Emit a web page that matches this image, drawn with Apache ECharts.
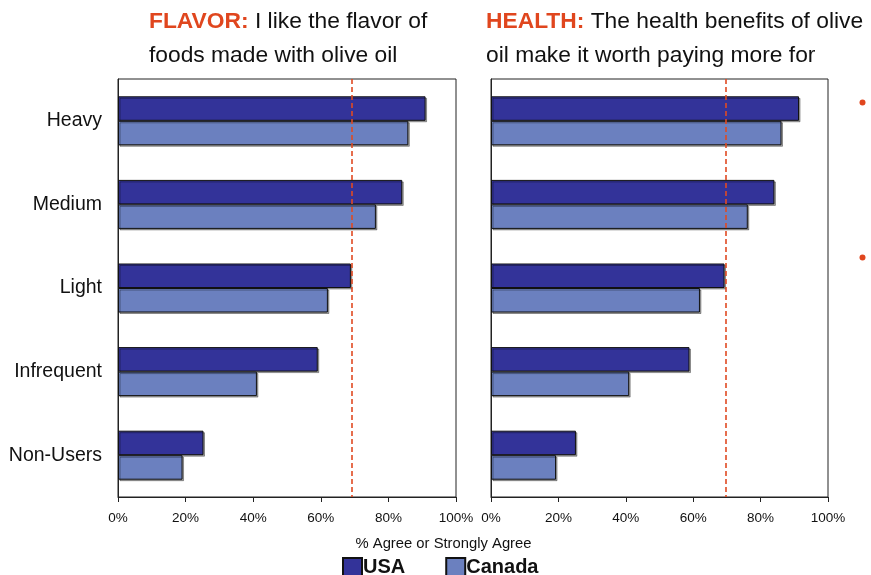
<!DOCTYPE html>
<html>
<head>
<meta charset="utf-8">
<script src="https://cdn.jsdelivr.net/npm/echarts@6/dist/echarts.min.js"></script>
<style>
  html, body { margin: 0; padding: 0; background: #fff; }
  #chart { width: 871px; height: 575px; }
</style>
</head>
<body>
<div id="chart"></div>
<script>
// Usage groups, top to bottom
const segments = ['Heavy', 'Medium', 'Light', 'Infrequent', 'Non-Users'];
// % agree or strongly agree — flavor statement
const flavorUSA = [91.0, 84.1, 68.9, 59.1, 25.3];
const flavorCanada = [85.9, 76.3, 62.1, 41.1, 19.1];
// % agree or strongly agree — health statement
const healthUSA = [91.4, 84.1, 69.3, 58.9, 25.2];
const healthCanada = [86.2, 76.2, 62.0, 41.0, 19.3];
// reference levels (dashed lines)
const flavorRef = 69.2;
const healthRef = 69.6;
const xTicks = [0, 20, 40, 60, 80, 100];

const USA_COLOR = '#333399';
const CAN_COLOR = '#6B80BF';
const REF_COLOR = '#E04A22';
const SANS = '"Liberation Sans", Arial, sans-serif';

const chart = echarts.init(document.getElementById('chart'), null, { renderer: 'canvas' });

function barSeries(name, data, color, idx) {
  return {
    name: name,
    type: 'bar',
    xAxisIndex: idx,
    yAxisIndex: idx,
    data: data,
    barWidth: 24.5,
    barGap: '0%',
    itemStyle: {
      color: color,
      borderColor: '#111',
      borderWidth: 1,
      shadowColor: 'rgba(0,0,0,0.35)',
      shadowOffsetX: 1.5,
      shadowOffsetY: 1.5,
      shadowBlur: 0
    },
    emphasis: { disabled: true },
    animation: false
  };
}

// Dashed vertical reference line drawn by an otherwise empty series
function refSeries(idx, ref) {
  const style = { color: REF_COLOR, type: [5, 3], width: 1.6, opacity: 1 };
  return {
    name: 'ref' + idx,
    type: 'line',
    xAxisIndex: idx,
    yAxisIndex: idx,
    data: [],
    color: REF_COLOR,
    markLine: {
      silent: true,
      symbol: 'none',
      label: { show: false },
      lineStyle: style,
      emphasis: { disabled: true },
      data: [{ xAxis: ref, lineStyle: style }],
      animation: false
    },
    animation: false
  };
}

function xAxis(idx) {
  return {
    type: 'value',
    gridIndex: idx,
    min: 0,
    max: 100,
    interval: 20,
    axisLine: { show: true, lineStyle: { color: '#222', width: 1 } },
    axisTick: { show: true, length: 5, lineStyle: { color: '#222' } },
    splitLine: { show: false },
    axisLabel: {
      formatter: v => xTicks.includes(v) ? v + '%' : '',
      color: '#111',
      fontFamily: SANS,
      fontSize: 13.5,
      margin: 14
    }
  };
}

function yAxis(idx, showLabels) {
  return {
    type: 'category',
    gridIndex: idx,
    data: segments,
    inverse: true,
    axisLine: { show: true, lineStyle: { color: '#222', width: 1 } },
    axisTick: { show: false },
    axisLabel: {
      show: showLabels,
      color: '#111',
      fontFamily: SANS,
      fontSize: 19.5,
      margin: 16
    }
  };
}

const gridBox = { show: true, borderColor: '#222', borderWidth: 1, backgroundColor: '#fff' };

const titleStyle = {
  fontFamily: SANS, fontSize: 22.8, fontWeight: 'normal', color: '#111', lineHeight: 33.5,
  rich: { h: { fontFamily: SANS, fontSize: 22.8, fontWeight: 'bold', color: '#E0461E', lineHeight: 33.5 } }
};

const option = {
  backgroundColor: '#fff',
  title: [
    {
      text: '{h|FLAVOR:} I like the flavor of\nfoods made with olive oil',
      left: 144, top: 0,
      textStyle: titleStyle
    },
    {
      text: '{h|HEALTH:} The health benefits of olive\noil make it worth paying more for',
      left: 481, top: 0,
      textStyle: titleStyle
    },
    {
      text: '% Agree or Strongly Agree',
      left: 438.5, top: 531, textAlign: 'center',
      textStyle: { fontFamily: SANS, fontSize: 14.8, fontWeight: 'normal', color: '#111' }
    }
  ],
  legend: {
    data: ['USA', 'Canada'],
    icon: 'rect',
    left: 342, top: 557,
    padding: 0,
    itemWidth: 19, itemHeight: 19, itemGap: 40,
    textStyle: { fontFamily: SANS, fontSize: 20, fontWeight: 'bold', color: '#111', padding: [0, 0, 0, -4] },
    selectedMode: false
  },
  grid: [
    Object.assign({ left: 118, top: 79, width: 338, height: 418 }, gridBox),
    Object.assign({ left: 491, top: 79, width: 337, height: 418 }, gridBox)
  ],
  xAxis: [xAxis(0), xAxis(1)],
  yAxis: [yAxis(0, true), yAxis(1, false)],
  series: [
    barSeries('USA', flavorUSA, USA_COLOR, 0),
    barSeries('Canada', flavorCanada, CAN_COLOR, 0),
    barSeries('USA', healthUSA, USA_COLOR, 1),
    barSeries('Canada', healthCanada, CAN_COLOR, 1),
    refSeries(0, flavorRef),
    refSeries(1, healthRef)
  ],
  graphic: [
    { type: 'circle', shape: { cx: 862.5, cy: 102.5, r: 3 }, style: { fill: '#E0461E' } },
    { type: 'circle', shape: { cx: 862.5, cy: 257.5, r: 3 }, style: { fill: '#E0461E' } }
  ],
  animation: false
};

chart.setOption(option);
</script>
</body>
</html>
